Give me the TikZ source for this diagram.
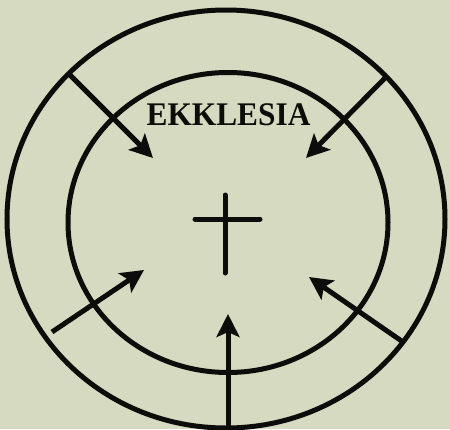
\documentclass[tikz,border=0pt]{standalone}
\usepackage{fontspec}
\setmainfont{Liberation Serif}
\usetikzlibrary{arrows.meta}
\definecolor{paper}{RGB}{214,218,192}
\definecolor{ink}{RGB}{12,12,10}
\tikzset{
  ring/.style={draw=ink, line width=5pt},
  inarrow/.style={draw=ink, line width=5pt, -{Stealth[length=23pt,width=23pt,inset=5pt]}},
  crossbar/.style={draw=ink, line width=5pt, line cap=round},
}
\begin{document}
\begin{tikzpicture}[x=1pt,y=-1pt]
\fill[paper] (0,0) rectangle (450,429);
\useasboundingbox (0,0) rectangle (450,429);
\draw[ring] (226,219) ellipse [x radius=219, y radius=209];
\draw[ring] (228,222.5) ellipse [x radius=160, y radius=150];
\node[font=\bfseries, xscale=0.95, text=ink, inner sep=0pt, anchor=base] (title) at (228.5,125) {\fontsize{33}{33}\selectfont EKKLESIA};
\coordinate (ctop) at (225,195);
\coordinate (cbot) at (225,273);
\coordinate (cl) at (195,219);
\coordinate (cr) at (260,219);
\draw[crossbar] (ctop) -- (cbot);
\draw[crossbar] (cl) -- (cr);
\coordinate (s1) at (70,75);   \coordinate (t1) at (153,158);
\coordinate (s2) at (385,78);  \coordinate (t2) at (306,158);
\coordinate (s3) at (52,332);  \coordinate (t3) at (144,270);
\coordinate (s4) at (403,342); \coordinate (t4) at (309,277);
\coordinate (s5) at (228,432); \coordinate (t5) at (228,314);
\draw[inarrow] (s1) -- (t1);
\draw[inarrow] (s2) -- (t2);
\draw[inarrow] (s3) -- (t3);
\draw[inarrow] (s4) -- (t4);
\draw[inarrow] (s5) -- (t5);
\end{tikzpicture}
\end{document}
